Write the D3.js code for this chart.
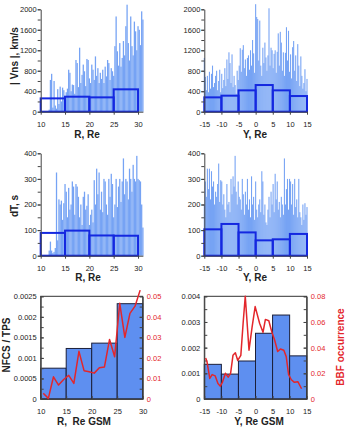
<!DOCTYPE html>
<html>
<head>
<meta charset="utf-8">
<script src="https://cdn.jsdelivr.net/npm/d3@7"></script>
<style>
  body { margin: 0; background: #fff; }
  svg text { font-family: "Liberation Sans", Arial, sans-serif; }
  .tick text { font-size: 7.5px; fill: #222; }
  .red .tick text { fill: #e3262b; }
  .tick line, .domain { stroke: #444; }
  .lbl { font-size: 10px; font-weight: bold; fill: #222; }
</style>
</head>
<body>
<svg width="347" height="430"></svg>
<script>
// event samples: R from 10 every 0.25 Re, Y from -15 every 0.3 Re
var rStart = 10, rStep = 0.25
var yStart = -15, yStep = 0.3

var vnsByR = [0,0,0,0,0,0,0,40,620,740,80,600,120,60,440,150,490,200,470,420,
  300,380,450,820,760,400,530,520,350,1010,950,480,1250,560,720,920,790,500,1030,1010,
  650,560,920,820,620,1080,700,850,560,760,640,820,560,880,690,1010,950,620,850,790,
  700,1280,1860,1180,900,1340,880,1050,1380,1100,1670,2090,1340,1000,1860,1280,1100,1760,1570,1200,
  1670,1600,1300,1960,1800]

var vnsByY = [1050,680,420,700,380,780,450,740,900,480,560,700,800,420,600,820,380,740,460,620,
  850,500,1020,640,1160,950,560,1120,480,700,520,350,800,620,900,1240,780,1210,1300,850,
  1020,700,1050,1100,820,1200,900,1400,1140,760,2100,1850,1810,1000,1780,900,700,1250,950,1350,
  1060,800,1100,2020,900,1250,1200,850,1130,1200,760,1170,1530,900,1560,1350,800,1160,700,1150,
  1650,1000,1580,780,1120,650,1260,1380,800,1100,600,1320,900,500,1080,700,450,560,830,400,640]

var dtByR = [0,0,0,0,0,0,0,20,55,20,10,15,30,325,60,220,200,215,140,205,
  280,250,150,265,180,200,290,270,160,280,270,230,150,200,120,230,250,180,195,240,
  120,160,180,130,295,200,340,240,325,180,250,170,300,290,200,160,300,230,320,280,
  150,200,300,190,270,300,210,290,380,240,300,290,220,340,300,250,355,300,290,390,
  300,295,290,200,110]

var dtByY = [200,290,230,340,260,340,220,330,270,290,200,250,230,280,360,210,295,290,200,240,
  180,150,280,200,210,170,300,240,310,270,390,250,200,290,230,220,180,300,240,160,
  250,200,300,180,220,150,310,200,230,140,290,180,150,200,220,170,330,290,160,200,
  130,120,180,230,150,250,200,280,170,320,220,290,180,210,150,230,200,160,380,200,
  260,300,180,300,290,200,280,160,300,190,220,150,300,170,150,120,200,140,205,160,190]

// bin averages
var rEdges = [10, 15, 20, 25, 30]
var yEdges = [-15, -10, -5, 0, 5, 10, 15]
var vnsMeanR = [260, 293, 280, 437]
var vnsMeanY = [280, 313, 417, 521, 417, 306]
var dtMeanR = [89, 98, 79, 78]
var dtMeanY = [103, 124, 91, 60, 64, 85]
var nfcsR = [0.00075, 0.00123, 0.00136, 0.00232]
var nfcsY = [0.00135, 0.00097, 0.00148, 0.00256, 0.00327, 0.00168]

// BBF occurrence
var bbfRx = [10.5,11.5,12.5,13.5,14.5,15.5,16.5,17.5,18.5,19.5,20.5,21.5,22.5,23.5,24.5,25.5,26.5,27.5,28.5,29.5]
var bbfRv = [0.0028,0.0003,0.0108,0.0068,0.0095,0.0115,0.0076,0.0232,0.0138,0.0133,0.0126,0.0152,0.0156,0.029,0.0206,0.0466,0.030,0.0417,0.0452,0.053]
var bbfYx = [-14.6,-14.2,-13.4,-12.7,-11.8,-11.0,-10.3,-9.7,-8.8,-8.0,-7.3,-6.6,-5.9,-5.2,-4.3,-3.6,-3.0,-1.9,-1.0,-0.1,
  1.2,2.2,2.9,3.9,4.8,5.6,6.5,7.3,8.3,9.0,9.7,10.5,11.4,12.4,13.5]
var bbfYv = [0.032,0.029,0.016,0.019,0.018,0.012,0.010,0.013,0.020,0.017,0.020,0.034,0.036,0.030,0.034,0.060,0.080,0.038,0.056,0.072,
  0.059,0.052,0.062,0.061,0.052,0.046,0.037,0.039,0.038,0.033,0.019,0.015,0.013,0.0135,0.008]

// ticks
var rTicks = [10, 15, 20, 25, 30]
var yTicks = [-15, -10, -5, 0, 5, 10, 15]
var vnsTicks = [0, 400, 800, 1200, 1600, 2000]
var dtTicks = [0, 100, 200, 300, 400]
var nfcsRTicks = [0, 0.0005, 0.001, 0.0015, 0.002, 0.0025]
var nfcsYTicks = [0, 0.001, 0.002, 0.003, 0.004]
var bbfRTicks = [0, 0.01, 0.02, 0.03, 0.04, 0.05]
var bbfYTicks = [0, 0.02, 0.04, 0.06, 0.08]

var svg = d3.select('svg')

var leftX = [40.7, 142.9], rightX = [204.3, 307]
var topY = [111.7, 9.3], midY = [255.7, 153.3], botY = [399, 296.3]

function minorOf(major, n) {
  var out = []
  for (var i = 0; i < major.length - 1; i++) {
    for (var k = 0; k < n; k++) out.push(major[i] + (major[i + 1] - major[i]) * k / n)
  }
  out.push(major[major.length - 1])
  return out
}

function drawY(x0, y, major, n, inward, right, cls) {
  var mk = right ? d3.axisRight : d3.axisLeft
  var s = inward ? -3 : 3
  var g = svg.append('g').attr('transform', 'translate(' + x0 + ',0)')
  if (cls) g.attr('class', cls)
  g.call(mk(y).tickValues(minorOf(major, n)).tickFormat('').tickSizeInner(s).tickSizeOuter(0))
  var l = svg.append('g').attr('transform', 'translate(' + x0 + ',0)')
  if (cls) l.attr('class', cls)
  l.call(mk(y).tickValues(major).tickFormat(String).tickSizeInner(s).tickSizeOuter(0)
    .tickPadding(inward ? 4 : 1))
  l.select('.domain').remove()
}

function drawX(y0, x, ticks, inward) {
  var s = inward ? -3 : 3
  svg.append('g').attr('transform', 'translate(0,' + y0 + ')')
    .call(d3.axisBottom(x).tickValues(ticks).tickFormat(String)
      .tickSizeInner(s).tickSizeOuter(0).tickPadding(inward ? 9.5 : 6.5))
}

function lightBars(x, y, start, step, values) {
  var w = (x(start + step) - x(start)) * 1.05
  svg.append('g').selectAll('rect').data(values).enter().append('rect')
    .attr('x', function(d, i) { return x(start + i * step) - w / 2 })
    .attr('y', function(d) { return y(d) })
    .attr('width', w)
    .attr('height', function(d) { return y(0) - y(d) })
    .attr('fill', '#76a3f4')
}

function binBars(x, y, edges, means, filled) {
  svg.append('g').selectAll('rect').data(means).enter().append('rect')
    .attr('x', function(d, i) { return x(edges[i]) })
    .attr('y', function(d) { return y(d) })
    .attr('width', function(d, i) { return x(edges[i + 1]) - x(edges[i]) })
    .attr('height', function(d) { return y(0) - y(d) })
    .attr('fill', filled ? '#5e8ff0' : 'none')
    .attr('stroke', filled ? '#1b1f3a' : '#1428e0')
    .attr('stroke-width', filled ? 1 : 2)
}

function label(txt, x, y, rot, color) {
  var t = svg.append('text').attr('class', 'lbl').attr('text-anchor', 'middle')
    .attr('transform', 'translate(' + x + ',' + y + ')' + (rot ? ' rotate(-90)' : ''))
    .attr('dy', rot ? '0.35em' : 0)
    .text(txt)
  if (color) t.style('fill', color)
}

// ---- row 1: |Vns|
var xR = d3.scaleLinear().domain([10, 31]).range(leftX)
var xY = d3.scaleLinear().domain([-15, 15]).range(rightX)
var yV = d3.scaleLinear().domain([0, 2000]).range(topY)

lightBars(xR, yV, rStart, rStep, vnsByR)
binBars(xR, yV, rEdges, vnsMeanR, false)
drawY(leftX[0], yV, vnsTicks, 2, false)
drawX(topY[0], xR, rTicks, false)

lightBars(xY, yV, yStart, yStep, vnsByY)
binBars(xY, yV, yEdges, vnsMeanY, false)
drawY(rightX[0], yV, vnsTicks, 2, false)
drawX(topY[0], xY, yTicks, false)

label('| Vns |, km/s', 14, 56, true)
label('R, Re', 87, 138)
label('Y, Re', 255, 138)

// ---- row 2: dT
var yT = d3.scaleLinear().domain([0, 400]).range(midY)

lightBars(xR, yT, rStart, rStep, dtByR)
binBars(xR, yT, rEdges, dtMeanR, false)
drawY(leftX[0], yT, dtTicks, 2, false)
drawX(midY[0], xR, rTicks, false)

lightBars(xY, yT, yStart, yStep, dtByY)
binBars(xY, yT, yEdges, dtMeanY, false)
drawY(rightX[0], yT, dtTicks, 2, false)
drawX(midY[0], xY, yTicks, false)

label('dT, s', 14, 206, true)
label('R, Re', 88, 281)
label('Y, Re', 255, 281)

// ---- row 3: NFCS / TPS and BBF occurrence
var xR3 = d3.scaleLinear().domain([10, 30]).range([40.7, 142.7])
var xY3 = d3.scaleLinear().domain([-15, 15]).range([204.3, 306.7])
var yNR = d3.scaleLinear().domain([0, 0.0025]).range(botY)
var yNY = d3.scaleLinear().domain([0, 0.004]).range(botY)
var yBR = d3.scaleLinear().domain([0, 0.05]).range(botY)
var yBY = d3.scaleLinear().domain([0, 0.08]).range(botY)

function bottomPanel(x, yN, yB, edges, vals, nTicks, bTicks, bx, bv, xTicks) {
  binBars(x, yN, edges, vals, true)
  var r = x.range()
  svg.append('rect').attr('x', r[0]).attr('y', botY[1])
    .attr('width', r[1] - r[0]).attr('height', botY[0] - botY[1])
    .attr('fill', 'none').attr('stroke', '#333').attr('stroke-width', 1)
  drawY(r[0], yN, nTicks, 2, true)
  drawY(r[1], yB, bTicks, 2, true, true, 'red')
  drawX(botY[0], x, xTicks, true)
  var line = d3.line()
    .x(function(d, i) { return x(bx[i]) })
    .y(function(d) { return yB(d) })
  svg.append('path').datum(bv).attr('d', line)
    .attr('fill', 'none').attr('stroke', '#e3262b').attr('stroke-width', 1.5)
    .attr('stroke-linejoin', 'round')
}

bottomPanel(xR3, yNR, yBR, rEdges, nfcsR, nfcsRTicks, bbfRTicks, bbfRx, bbfRv, rTicks)
bottomPanel(xY3, yNY, yBY, yEdges, nfcsY, nfcsYTicks, bbfYTicks, bbfYx, bbfYv, yTicks)

label('NFCS / TPS', 6, 345, true)
label('BBF occurrence', 340, 347, true, '#e3262b')
label('R,\u00a0 Re GSM', 84, 425)
label('Y, Re GSM', 259, 425)
</script>
</body>
</html>
